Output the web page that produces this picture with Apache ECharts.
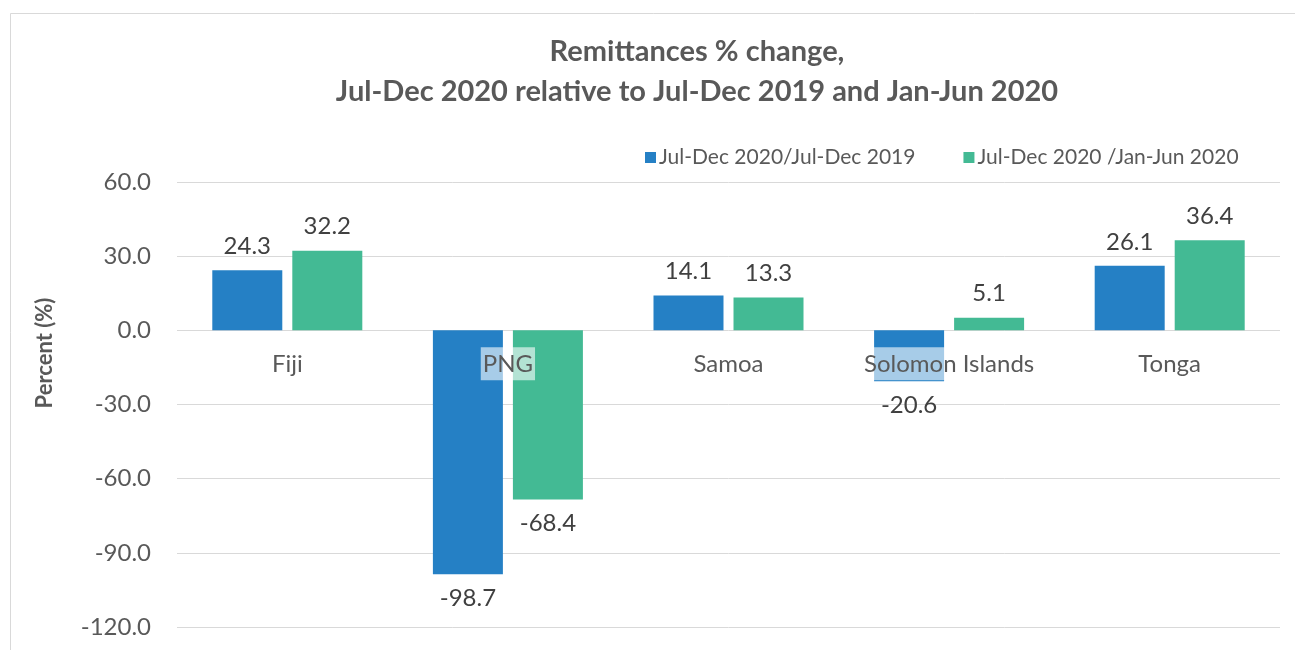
<!DOCTYPE html>
<html>
<head>
<meta charset="utf-8">
<script src="https://cdn.jsdelivr.net/npm/echarts@6/dist/echarts.min.js"></script>
<style>html,body{margin:0;padding:0;background:#fff}#c{width:1295px;height:650px}</style>
</head>
<body>
<div id="c"></div>
<script>
const categories = ['Fiji', 'PNG', 'Samoa', 'Solomon Islands', 'Tonga'];
const seriesNames = ['Jul-Dec 2020/Jul-Dec 2019', 'Jul-Dec 2020 /Jan-Jun 2020'];
const vsJulDec2019 = [24.3, -98.7, 14.1, -20.6, 26.1];
const vsJanJun2020 = [32.2, -68.4, 13.3, 5.1, 36.4];
const yTicks = { min: -120, max: 60, interval: 30 };
const titleLines = ['Remittances % change,', 'Jul-Dec 2020 relative to Jul-Dec 2019 and Jan-Jun 2020'];
const yAxisName = 'Percent (%)';

const FONT = 'Lato';
const TXT = '#595959';
const GRID = { left: 177, right: 15, top: 182, bottom: 23 };
const PLOT_H = 650 - GRID.top - GRID.bottom;
// shift category axis so it sits on the zero line
const zeroOffset = -PLOT_H * (0 - yTicks.min) / (yTicks.max - yTicks.min);
const toData = arr => arr.map(v => v < 0 ? { value: v, label: { position: 'bottom' } } : v);

const chart = echarts.init(document.getElementById('c'), null, { renderer: 'canvas' });
chart.setOption({
  animation: false,
  backgroundColor: '#fff',
  title: {
    text: titleLines.join('\n'),
    left: 692,
    textAlign: 'center',
    top: 27,
    textStyle: { fontFamily: FONT, fontWeight: 'bold', fontSize: 29, color: TXT, lineHeight: 40 }
  },
  legend: {
    left: 640,
    top: 142,
    itemWidth: 11,
    itemHeight: 11,
    itemGap: 48,
    icon: 'rect',
    textStyle: { fontFamily: FONT, fontSize: 21, color: TXT, padding: [0, 0, 0, -2] },
    data: seriesNames
  },
  grid: Object.assign({ containLabel: false, outerBoundsMode: 'none' }, GRID),
  xAxis: {
    type: 'category',
    data: categories,
    zlevel: 1,
    z: 10,
    offset: zeroOffset,
    axisTick: { show: false },
    axisLine: { show: false, onZero: false },
    axisLabel: {
      interval: 0,
      fontFamily: FONT, fontSize: 24, color: TXT, margin: 17, hideOverlap: false,
      backgroundColor: 'rgba(255,255,255,0.6)', padding: [5, 2, 4, 2]
    }
  },
  yAxis: {
    type: 'value',
    min: yTicks.min, max: yTicks.max, interval: yTicks.interval,
    axisLine: { show: false },
    axisTick: { show: false },
    splitLine: { lineStyle: { color: '#d9d9d9', width: 1 } },
    axisLabel: { fontFamily: FONT, fontSize: 24, color: TXT, margin: 26, formatter: v => v.toFixed(1) }
  },
  graphic: [
    { type: 'rect', shape: { x: 10.5, y: 13.5, width: 1400, height: 800 }, style: { fill: 'none', stroke: '#d9d9d9', lineWidth: 1 }, silent: true, z: -10 },
    { type: 'text', x: 45, y: 353, rotation: Math.PI / 2,
      style: { text: yAxisName, fontFamily: FONT, fontWeight: 'bold', fontSize: 22, fill: TXT, align: 'center', verticalAlign: 'middle' } }
  ],
  series: [
    {
      name: seriesNames[0], type: 'bar', data: toData(vsJulDec2019), z: 2,
      barWidth: 70, barGap: '14.3%',
      itemStyle: { color: '#2580C5' },
      label: { show: true, position: 'top', distance: 12, fontFamily: FONT, fontSize: 24, color: '#404040', formatter: p => p.value.toFixed(1) }
    },
    {
      name: seriesNames[1], type: 'bar', data: toData(vsJanJun2020), z: 2,
      barWidth: 70, barGap: '14.3%',
      itemStyle: { color: '#43BA94' },
      label: { show: true, position: 'top', distance: 12, fontFamily: FONT, fontSize: 24, color: '#404040', formatter: p => p.value.toFixed(1) }
    }
  ]
});
</script>
</body>
</html>
